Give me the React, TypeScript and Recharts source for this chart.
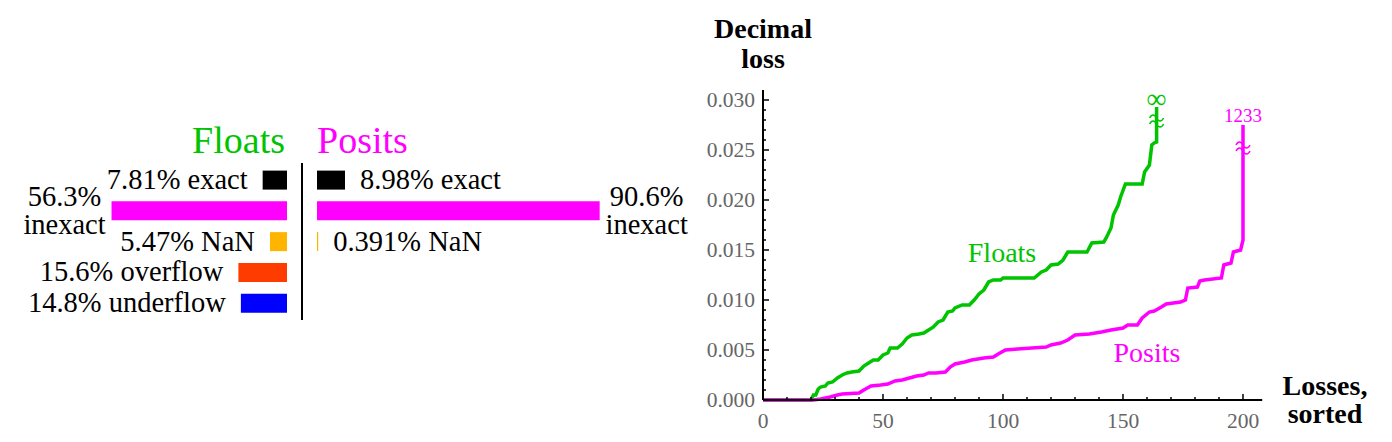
import { BarChart, Bar, Cell, XAxis, YAxis, LabelList, LineChart, Line, ReferenceDot } from "recharts";

const SERIF = "'Liberation Serif', 'Times New Roman', serif";
const GREEN = "#00c400";
const MAGENTA = "#ff00ff";

// left panel: share of results per category
const categories = ["exact", "inexact", "NaN", "overflow", "underflow"];
const floatShares = [7.81, 56.3, 5.47, 15.6, 14.8];
const positShares = [8.98, 90.6, 0.391, 0, 0];
const barColors = ["#000000", "#ff00ff", "#ffb400", "#ff3c00", "#0000ff"];

// right panel: sorted decimal losses
const floatRank = [0, 20, 21, 22, 23, 24, 26, 27, 29, 31, 33, 35, 37, 40, 42, 44, 46, 48, 50, 52, 53, 56, 58, 60, 62, 65, 67, 69, 71, 73, 75, 77, 79, 80, 83, 86, 88, 90, 92, 94, 96, 99, 100, 113, 116, 118, 120, 123, 125, 127, 135, 137, 142, 143, 145, 146, 148, 149, 151, 158, 159, 161, 162, 163, 164, 164];
const floatLoss = [0, 0, 0.0005, 0.0005, 0.0011, 0.0013, 0.0014, 0.0017, 0.0018, 0.0022, 0.0025, 0.0027, 0.0028, 0.0029, 0.0034, 0.0037, 0.004, 0.004, 0.0045, 0.0047, 0.0052, 0.0052, 0.0056, 0.0062, 0.0065, 0.0066, 0.0067, 0.007, 0.0073, 0.0078, 0.008, 0.0088, 0.0089, 0.0092, 0.0095, 0.0095, 0.01, 0.0106, 0.011, 0.0118, 0.012, 0.012, 0.0122, 0.0122, 0.0128, 0.013, 0.0135, 0.0136, 0.014, 0.0148, 0.0148, 0.0157, 0.0158, 0.0162, 0.0172, 0.0185, 0.0195, 0.0203, 0.0216, 0.0216, 0.0228, 0.0235, 0.0255, 0.0257, 0.0258, 0.0293];
const positRank = [0, 21, 24, 28, 31, 33, 40, 42, 45, 49, 52, 55, 58, 61, 64, 67, 69, 72, 76, 78, 80, 84, 87, 92, 96, 98, 101, 106, 112, 118, 120, 124, 127, 130, 136, 141, 145, 150, 152, 156, 158, 161, 163, 166, 168, 171, 174, 176, 177, 181, 182, 184, 191, 192, 195, 196, 199, 200, 200];
const positLoss = [0, 0, 0.0001, 0.0003, 0.0005, 0.0006, 0.0007, 0.001, 0.0014, 0.0015, 0.0016, 0.0019, 0.002, 0.0022, 0.0024, 0.0025, 0.0027, 0.0027, 0.0028, 0.0033, 0.0036, 0.0038, 0.004, 0.0042, 0.0043, 0.0046, 0.005, 0.0051, 0.0052, 0.0053, 0.0055, 0.0057, 0.006, 0.0065, 0.0066, 0.0068, 0.007, 0.0072, 0.0075, 0.0075, 0.0082, 0.0088, 0.0089, 0.0093, 0.0096, 0.0097, 0.0098, 0.01, 0.0112, 0.0113, 0.0119, 0.012, 0.0122, 0.0135, 0.0137, 0.0148, 0.015, 0.016, 0.0275];

const xTicks = [0, 10, 20, 30, 40, 50, 60, 70, 80, 90, 100, 110, 120, 130, 140, 150, 160, 170, 180, 190, 200];
const yTicks = Array.from({ length: 31 }, (_, i) => i / 1000);

const floatRows = categories.map((name, i) => ({ name, share: floatShares[i] }));
const positRows = categories.map((name, i) => ({ name, share: positShares[i] }));
const floatData = floatRank.map((x, i) => ({ x, y: floatLoss[i] }));
const positData = positRank.map((x, i) => ({ x, y: positLoss[i] }));

const labelStyle = { fontFamily: SERIF, fontSize: 28.5, fill: "#000" };

function FloatLabel(props: any) {
  const { x, y, width, height, index } = props;
  const v = floatShares[index];
  if (!v) return null;
  const left = Math.min(x, x + width);
  const cy = y + height / 2;
  if (categories[index] === "inexact") {
    return (
      <text textAnchor="middle" {...labelStyle}>
        <tspan x={left - 47} y={cy - 5}>{v}%</tspan>
        <tspan x={left - 47} y={cy + 23}>{categories[index]}</tspan>
      </text>
    );
  }
  return (
    <text x={left - 15} y={cy + 9} textAnchor="end" {...labelStyle}>
      {v}% {categories[index]}
    </text>
  );
}

function PositLabel(props: any) {
  const { x, y, width, height, index } = props;
  const v = positShares[index];
  if (!v) return null;
  const right = Math.max(x, x + width);
  const cy = y + height / 2;
  if (categories[index] === "inexact") {
    return (
      <text textAnchor="middle" {...labelStyle}>
        <tspan x={right + 47} y={cy - 5}>{v}%</tspan>
        <tspan x={right + 47} y={cy + 23}>{categories[index]}</tspan>
      </text>
    );
  }
  return (
    <text x={right + 15} y={cy + 9} textAnchor="start" {...labelStyle}>
      {v}% {categories[index]}
    </text>
  );
}

function XTick(props: any) {
  const { x, y, payload } = props;
  const major = payload.value % 50 === 0;
  return (
    <g>
      <line x1={x} x2={x} y1={y} y2={y - (major ? 6 : 3)} stroke="#000" strokeWidth={1.5} />
      {major && (
        <text x={x} y={y + 28} textAnchor="middle" fontSize={21.5} fill="#666" fontFamily={SERIF}>
          {payload.value}
        </text>
      )}
    </g>
  );
}

function YTick(props: any) {
  const { x, y, payload } = props;
  const major = Math.round(payload.value * 1000) % 5 === 0;
  return (
    <g>
      <line x1={x} x2={x + (major ? 6 : 3)} y1={y} y2={y} stroke="#000" strokeWidth={1.5} />
      {major && (
        <text x={x - 8} y={y + 7} textAnchor="end" fontSize={21.5} fill="#666" fontFamily={SERIF}>
          {payload.value.toFixed(3)}
        </text>
      )}
    </g>
  );
}

const breakMark = (color: string) => (p: any) => {
  const { cx, cy } = p;
  const wave = (dy: number) => `M ${cx - 7} ${cy + dy} c 2 -4 5 -4 7 0 s 5 4 7 0`;
  return (
    <g fill="none" stroke={color} strokeWidth={1.5}>
      <path d={wave(-3)} />
      <path d={wave(3)} />
    </g>
  );
};

export default function App() {
  return (
    <div style={{ position: "absolute", left: 0, top: 0, width: 1392, height: 442, background: "#fff" }}>
      <div style={{ position: "absolute", left: 0, top: 0 }}>
        <BarChart width={300} height={442} layout="vertical" data={floatRows}
          margin={{ top: 164.6, right: 13, bottom: 123.6, left: 100 }} barCategoryGap={0}>
          <XAxis type="number" domain={[0, 60]} reversed hide />
          <YAxis type="category" dataKey="name" hide />
          <Bar dataKey="share" barSize={19} isAnimationActive={false}>
            {floatRows.map((_r, i) => <Cell key={`f-${i}`} fill={barColors[i]} />)}
            <LabelList content={FloatLabel} />
          </Bar>
        </BarChart>
      </div>
      <div style={{ position: "absolute", left: 300, top: 0 }}>
        <BarChart width={400} height={442} layout="vertical" data={positRows}
          margin={{ top: 164.6, right: 71, bottom: 123.6, left: 17 }} barCategoryGap={0}>
          <XAxis type="number" domain={[0, 100]} hide />
          <YAxis type="category" dataKey="name" hide />
          <Bar dataKey="share" barSize={19} isAnimationActive={false}>
            {positRows.map((_r, i) => <Cell key={`p-${i}`} fill={barColors[i]} />)}
            <LabelList content={PositLabel} />
          </Bar>
        </BarChart>
      </div>
      <div style={{ position: "absolute", left: 700, top: 0 }}>
        <LineChart width={692} height={442} margin={{ top: 90, right: 129.8, bottom: 12, left: 3 }}>
          <XAxis type="number" dataKey="x" domain={[0, 208]} ticks={xTicks} interval={0}
            tick={XTick} tickLine={false} tickSize={0} tickMargin={0} height={30}
            axisLine={{ stroke: "#000", strokeWidth: 2 }} />
          <YAxis type="number" domain={[0, 0.031]} ticks={yTicks} interval={0}
            tick={YTick} tickLine={false} tickSize={0} tickMargin={0} width={60}
            axisLine={{ stroke: "#000", strokeWidth: 2 }} />
          <Line data={floatData} dataKey="y" type="linear" stroke={GREEN} strokeWidth={3.5}
            dot={false} isAnimationActive={false} />
          <Line data={positData} dataKey="y" type="linear" stroke={MAGENTA} strokeWidth={3.5}
            dot={false} isAnimationActive={false} />
          <ReferenceDot x={164} y={0.0279} r={0} shape={breakMark(GREEN)} />
          <ReferenceDot x={200} y={0.0252} r={0} shape={breakMark(MAGENTA)} />
          <ReferenceDot x={164} y={0.0302} r={0}
            label={{ value: "∞", position: "center", fill: GREEN, fontSize: 28, fontFamily: SERIF }} />
          <ReferenceDot x={200} y={0.0285} r={0}
            label={{ value: "1233", position: "center", fill: MAGENTA, fontSize: 19, fontFamily: SERIF }} />
          <ReferenceDot x={99.6} y={0.0148} r={0}
            label={{ value: "Floats", position: "center", fill: GREEN, fontSize: 28, fontFamily: SERIF }} />
          <ReferenceDot x={160} y={0.0048} r={0}
            label={{ value: "Posits", position: "center", fill: MAGENTA, fontSize: 28, fontFamily: SERIF }} />
        </LineChart>
      </div>
      <svg width={1392} height={442} style={{ position: "absolute", left: 0, top: 0, pointerEvents: "none" }}>
        <text x={285} y={153} textAnchor="end" fontFamily={SERIF} fontSize={38} fill={GREEN}>Floats</text>
        <text x={317} y={153} textAnchor="start" fontFamily={SERIF} fontSize={38} fill={MAGENTA}>Posits</text>
        <line x1={302} x2={302} y1={163} y2={320} stroke="#000" strokeWidth={2} />
        <text x={763} y={38} textAnchor="middle" fontFamily={SERIF} fontSize={28} fontWeight="bold">Decimal</text>
        <text x={763} y={68} textAnchor="middle" fontFamily={SERIF} fontSize={28} fontWeight="bold">loss</text>
        <text x={1325} y={395} textAnchor="middle" fontFamily={SERIF} fontSize={28} fontWeight="bold">Losses,</text>
        <text x={1325} y={423} textAnchor="middle" fontFamily={SERIF} fontSize={28} fontWeight="bold">sorted</text>
      </svg>
    </div>
  );
}
